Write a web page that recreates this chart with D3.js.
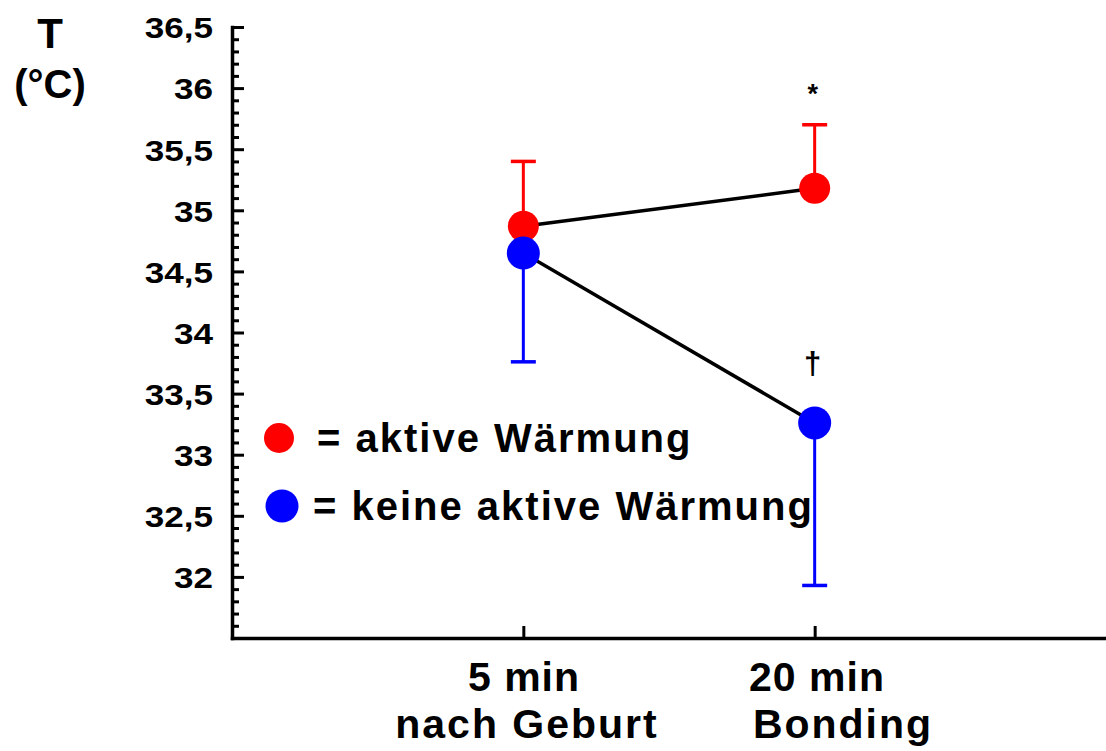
<!DOCTYPE html>
<html>
<head>
<meta charset="utf-8">
<script src="https://cdn.jsdelivr.net/npm/d3@7"></script>
<style>
  html, body { margin: 0; padding: 0; background: #fff; }
  svg { display: block; font-family: "Liberation Sans", Arial, sans-serif; font-weight: bold; }
</style>
</head>
<body>
<div id="chart"></div>
<script>
// values
const timeLabels = [["5 min", "nach Geburt"], ["20 min", "Bonding"]];
const timePos = [1, 2];
const warmMean = [34.87, 35.18];
const warmUpper = [35.40, 35.70];
const coldMean = [34.65, 33.26];
const coldLower = [33.76, 31.93];
const sigMarks = ["", "*"];
const sigMarksCold = ["", "†"];
const yTicks = [32, 32.5, 33, 33.5, 34, 34.5, 35, 35.5, 36, 36.5];
const legendLabels = ["= aktive Wärmung", "= keine aktive Wärmung"];
const legendColors = ["#ff0000", "#0000ff"];

const W = 1106, H = 751;
const svg = d3.select("#chart").append("svg").attr("width", W).attr("height", H);

const x = d3.scaleLinear().domain([0, 3]).range([232, 1106]);
const y = d3.scaleLinear().domain([31.5, 36.5]).range([638, 27]);

const fmt = v => String(v).replace(".", ",");

// minor ticks every 0.1
const minor = d3.range(315, 366).map(v => v / 10).filter(v => Math.abs(v * 2 - Math.round(v * 2)) > 1e-6);
svg.append("g").attr("transform", `translate(${x(0)},0)`)
  .call(d3.axisLeft(y).tickValues(minor).tickSize(-7).tickSizeOuter(0).tickFormat(""))
  .call(g => g.select(".domain").remove())
  .call(g => g.selectAll("line").attr("stroke", "#000").attr("stroke-width", 3));

const yAxis = svg.append("g").attr("transform", `translate(${x(0)},0)`)
  .call(d3.axisLeft(y).tickValues(yTicks).tickSize(-12).tickSizeOuter(0).tickFormat(fmt));
yAxis.select(".domain").attr("stroke", "#000").attr("stroke-width", 3.5).attr("stroke-linecap", "square");
yAxis.selectAll("line").attr("stroke", "#000").attr("stroke-width", 3);
yAxis.selectAll("text")
  .attr("x", null).attr("dy", "0.36em")
  .attr("text-anchor", "end")
  .attr("transform", "translate(-19,0) scale(1.17,1)")
  .attr("fill", "#000")
  .style("font-size", "30px").style("font-weight", "bold")
  .style("font-family", "'Liberation Sans', Arial, sans-serif");

const xAxis = svg.append("g").attr("transform", `translate(0,${y(31.5)})`)
  .call(d3.axisBottom(x).tickValues(timePos).tickSize(-12).tickSizeOuter(0).tickFormat(""));
xAxis.select(".domain").attr("stroke", "#000").attr("stroke-width", 3.5).attr("stroke-linecap", "square");
xAxis.selectAll("line").attr("stroke", "#000").attr("stroke-width", 3);

// x labels
const xl = [[524, 527], [817, 843]];
timeLabels.forEach((lines, i) => {
  lines.forEach((t, j) => {
    svg.append("text")
      .attr("x", xl[i][j]).attr("y", 691 + j * 47)
      .attr("text-anchor", "middle")
      .style("font-size", "41px").style("letter-spacing", j === 1 ? "2px" : "1px")
      .text(t);
  });
});

// y label
svg.append("text").attr("x", 50).attr("y", 48).attr("text-anchor", "middle").style("font-size", "42px").text("T");
svg.append("text").attr("x", 50).attr("y", 98).attr("text-anchor", "middle").style("font-size", "40px").text("(°C)");

// connecting lines
const line = d3.line().x((d, i) => x(timePos[i])).y(d => y(d));
svg.append("path").attr("d", line(warmMean)).attr("fill", "none").attr("stroke", "#000").attr("stroke-width", 3.5);
svg.append("path").attr("d", line(coldMean)).attr("fill", "none").attr("stroke", "#000").attr("stroke-width", 3.5);

// error bars
function errBars(mean, ends, color) {
  const g = svg.append("g").attr("stroke", color).attr("stroke-width", 3);
  mean.forEach((m, i) => {
    const cx = x(timePos[i]);
    g.append("line").attr("x1", cx).attr("x2", cx).attr("y1", y(m)).attr("y2", y(ends[i]));
    g.append("line").attr("x1", cx - 12.5).attr("x2", cx + 12.5).attr("y1", y(ends[i])).attr("y2", y(ends[i])).attr("stroke-width", 3.5);
  });
}
errBars(warmMean, warmUpper, legendColors[0]);
errBars(coldMean, coldLower, legendColors[1]);

// points
svg.append("g").selectAll("circle").data(warmMean).join("circle")
  .attr("cx", (d, i) => x(timePos[i])).attr("cy", d => y(d)).attr("r", 15.5).attr("fill", legendColors[0]);
svg.append("g").selectAll("circle").data(coldMean).join("circle")
  .attr("cx", (d, i) => x(timePos[i])).attr("cy", d => y(d)).attr("r", 16.5).attr("fill", legendColors[1]);

// significance marks
svg.append("g").selectAll("text").data(sigMarks).join("text")
  .attr("x", (d, i) => x(timePos[i]) - 2).attr("y", (d, i) => y(warmUpper[i]) - 22)
  .attr("text-anchor", "middle").style("font-size", "27px").text(d => d);
svg.append("g").selectAll("text").data(sigMarksCold).join("text")
  .attr("x", (d, i) => x(timePos[i]) - 2).attr("y", (d, i) => y(coldMean[i]) - 49)
  .attr("text-anchor", "middle").style("font-size", "31px").text(d => d);

// legend
const legY = [438, 506], legCx = [279, 282], legR = [15, 16.5], legTx = [317, 313], legBase = [452, 520];
legendLabels.forEach((t, i) => {
  svg.append("circle").attr("cx", legCx[i]).attr("cy", legY[i]).attr("r", legR[i]).attr("fill", legendColors[i]);
  svg.append("text").attr("x", legTx[i]).attr("y", legBase[i])
    .style("font-size", "40px").style("letter-spacing", "2px").text(t);
});
</script>
</body>
</html>
